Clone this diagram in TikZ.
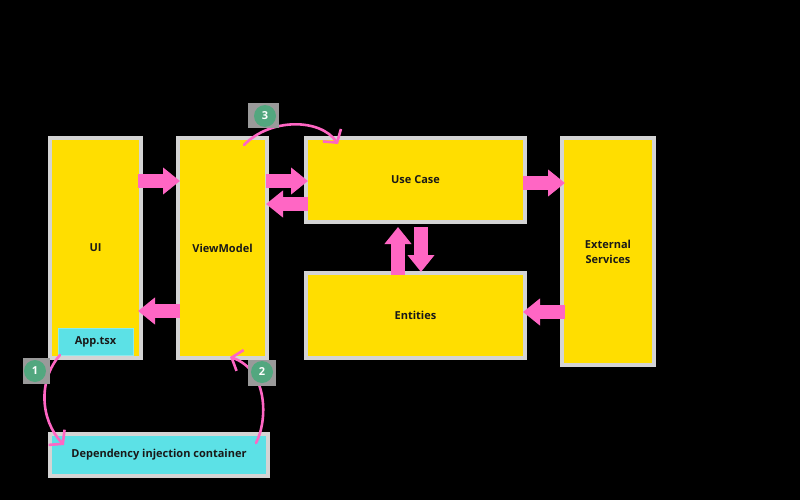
\documentclass[tikz,border=0pt]{standalone}
\usepackage{fontspec}
\setmainfont{Open Sans}
\usetikzlibrary{arrows.meta}
\definecolor{jaune}{HTML}{FFDE00}
\definecolor{rose}{HTML}{FF66C4}
\definecolor{turquoise}{HTML}{5CE1E6}
\definecolor{vert}{HTML}{52A77F}
\definecolor{bord}{HTML}{D4D4D4}
\definecolor{ombre}{HTML}{9A9A9A}
\begin{document}
\begin{tikzpicture}[x=1pt,y=-1pt,
	boite/.style={draw=bord, line width=4pt, fill=jaune, inner sep=0pt, outer sep=0pt, align=center, text=black!90, font=\bfseries\fontsize{11}{15}\selectfont},
	fleche/.style={draw=rose, line width=14pt, -{Triangle[length=17pt,width=26pt]}},
	courbe/.style={draw=rose, line width=2.6pt, line cap=round, -{Straight Barb[length=9pt,width=22pt]}},
	pastille/.style={circle, fill=vert, text=white, inner sep=0pt, minimum size=22pt, font=\bfseries\fontsize{11}{12}\selectfont}]
	% le fond
	\fill[black] (0,0) rectangle (800,500);
	\useasboundingbox (0,0) rectangle (800,500);
	% les boites
	\node[boite, minimum width=91pt, minimum height=220pt] (ui) at (95.5,248) {UI};
	\node[boite, minimum width=89pt, minimum height=220pt] (vm) at (222.5,248) {ViewModel};
	\node[boite, minimum width=219pt, minimum height=84pt] (uc) at (415.5,180) {Use Case};
	\node[boite, minimum width=219pt, minimum height=85pt] (ent) at (415.5,315.5) {Entities};
	\node[boite, minimum width=92pt, minimum height=227pt] (ext) at (608,251.5) {External\\Services};
	\node[boite, fill=turquoise, minimum width=218pt, minimum height=42pt] (di) at (159,455) {Dependency injection container};
	\node[boite, draw=turquoise!70!white, line width=1pt, fill=turquoise, minimum width=75pt, minimum height=27pt] (app) at (95.5,341.5) {App.tsx};
	% les fleches
	\draw[fleche, shorten <=-3pt, shorten >=-2pt] (ui.east |- 0,181) -- (vm.west |- 0,181);
	\draw[fleche, shorten <=-2pt, shorten >=-3pt] (vm.west |- 0,311) -- (ui.east |- 0,311);
	\draw[fleche, shorten <=-1pt, shorten >=-2pt] (vm.east |- 0,181) -- (uc.west |- 0,181);
	\draw[fleche, shorten <=-2pt, shorten >=-1pt] (uc.west |- 0,204) -- (vm.east |- 0,204);
	\draw[fleche, shorten <=-2pt, shorten >=-3pt] (uc.east |- 0,183) -- (ext.west |- 0,183);
	\draw[fleche, shorten <=-3pt, shorten >=-2pt] (ext.west |- 0,312) -- (ent.east |- 0,312);
	\draw[fleche, shorten <=-2pt, shorten >=5pt] (398,0 |- ent.north) -- (398,0 |- uc.south);
	\draw[fleche, shorten <=5pt, shorten >=1pt] (421,0 |- uc.south) -- (421,0 |- ent.north);
	% les courbes
	\coordinate (c1) at (64,445);
	\coordinate (c2) at (256,443);
	\coordinate (c3) at (230,357);
	\coordinate (c4) at (244,145);
	\coordinate (c5) at (338,144);
	\draw[courbe] ([xshift=2pt]app.south west) .. controls (38,380) and (40,420) .. (c1);
	\draw[courbe] (c2) .. controls (268,420) and (268,370) .. (c3);
	\draw[courbe] (c4) .. controls (270,118) and (320,118) .. (c5);
	% les numeros
	\fill[ombre] (23,358) rectangle (50,384);
	\fill[ombre] (248,360) rectangle (276,386);
	\fill[ombre] (248,103) rectangle (279,128);
	\node[pastille] (p1) at (35,371) {1};
	\node[pastille] (p2) at (262,372) {2};
	\node[pastille] (p3) at (265,116) {3};
\end{tikzpicture}
\end{document}
